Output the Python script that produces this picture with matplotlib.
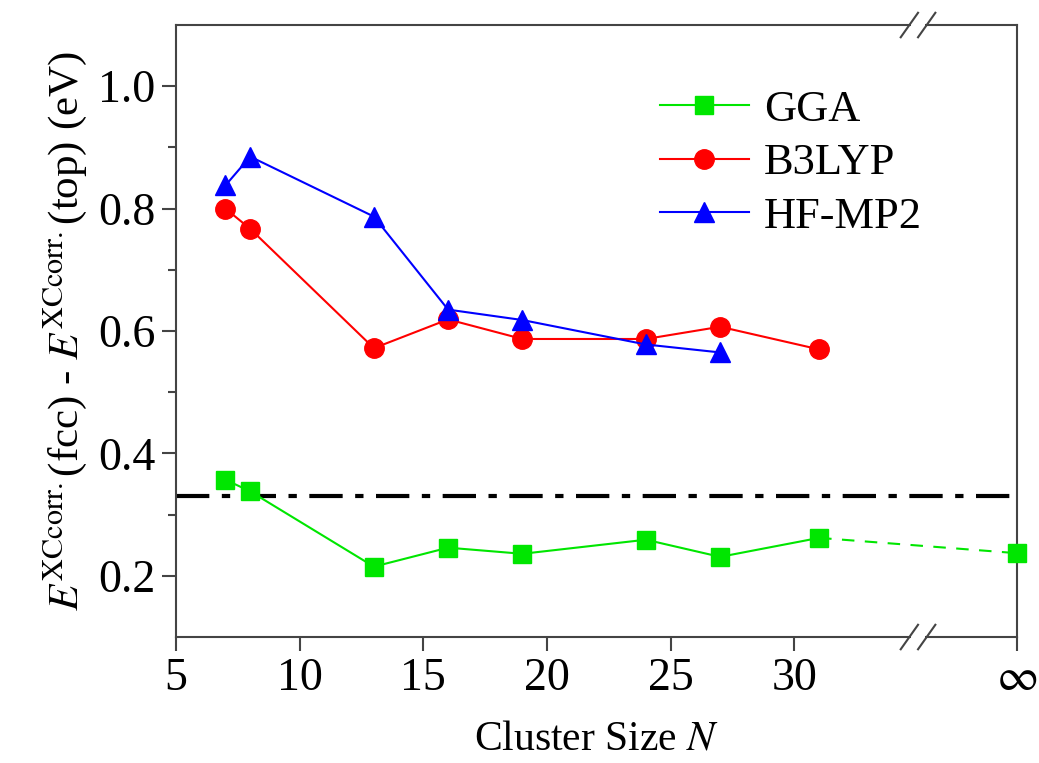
import numpy as np
import matplotlib
matplotlib.use("Agg")
import matplotlib.pyplot as plt

plt.rcParams['font.family'] = ['Liberation Serif', 'DejaVu Serif']
plt.rcParams['mathtext.fontset'] = 'stix'

# cluster sizes; 39 stands in for N = infinity past the axis break
x_break = 35
x_inf = 39

gga_n = [7, 8, 13, 16, 19, 24, 27, 31]
gga_e = [0.357, 0.338, 0.215, 0.246, 0.236, 0.259, 0.231, 0.262]
gga_inf = 0.237

b3lyp_n = [7, 8, 13, 16, 19, 24, 27, 31]
b3lyp_e = [0.800, 0.767, 0.572, 0.619, 0.587, 0.587, 0.607, 0.570]

hfmp2_n = [7, 8, 13, 16, 19, 24, 27]
hfmp2_e = [0.838, 0.885, 0.787, 0.635, 0.618, 0.578, 0.565]

bulk_ref = 0.331

green = '#00e600'
red = '#ff0000'
blue = '#0000ff'

fig = plt.figure(figsize=(10.39, 7.63), dpi=100)
ax = fig.add_axes([0.1694, 0.1651, 0.8094, 0.8021])

ax.axhline(bulk_ref, color='black', lw=3, dashes=(8, 3, 2, 3), zorder=1)

ax.plot(gga_n, gga_e, color=green, lw=1.5, marker='s', ms=13, mec=green, label='GGA', zorder=3)
ax.plot([gga_n[-1], x_inf], [gga_e[-1], gga_inf], color=green, lw=1.5, ls=(0, (6, 5)), zorder=2)
ax.plot([x_inf], [gga_inf], color=green, marker='s', ms=13, ls='none', clip_on=False, zorder=4)
ax.plot(b3lyp_n, b3lyp_e, color=red, lw=1.5, marker='o', ms=14, label='B3LYP', zorder=3)
ax.plot(hfmp2_n, hfmp2_e, color=blue, lw=1.5, marker='^', ms=15, label='HF-MP2', zorder=3)

ax.set_xlim(5, x_inf)
ax.set_ylim(0.1, 1.1)
ax.set_xticks([5, 10, 15, 20, 25, 30, x_inf])
ax.set_xticklabels(['5', '10', '15', '20', '25', '30', r'$\infty$'])
ax.set_yticks([0.2, 0.4, 0.6, 0.8, 1.0])
ax.set_yticks([0.3, 0.5, 0.7, 0.9], minor=True)

for s in ax.spines.values():
    s.set_color('#444444')
    s.set_linewidth(1.5)
ax.tick_params(axis='both', which='major', direction='out', length=10, width=1.5,
               color='#444444', labelsize=33, pad=5)
ax.tick_params(axis='y', which='minor', direction='out', length=6, width=1.5, color='#444444')
ax.tick_params(top=False, right=False)

ax.set_xlabel(r'Cluster Size $N$', fontsize=30, labelpad=14)
ax.set_ylabel(r'$E^{\mathrm{XCcorr.}}$(fcc) - $E^{\mathrm{XCcorr.}}$(top) (eV)',
              fontsize=31, labelpad=6)

# axis break marks on top and bottom spines
for yb in (0.0, 1.0):
    for dx in (-0.35, 0.35):
        ax.plot([x_break + dx - 0.35, x_break + dx + 0.35],
                [yb - 0.02, yb + 0.02], transform=ax.get_xaxis_transform(),
                color='#444444', lw=1.5, clip_on=False, zorder=5)
    ax.fill_between([x_break - 0.3, x_break + 0.3], yb - 0.004, yb + 0.004,
                    transform=ax.get_xaxis_transform(), color='white', lw=0,
                    clip_on=False, zorder=4)

ax.legend(loc='upper right', bbox_to_anchor=(0.935, 0.96), frameon=False, fontsize=32,
          handlelength=2.0, handletextpad=0.35, labelspacing=0.3)

fig.savefig('out.png', dpi=100)
